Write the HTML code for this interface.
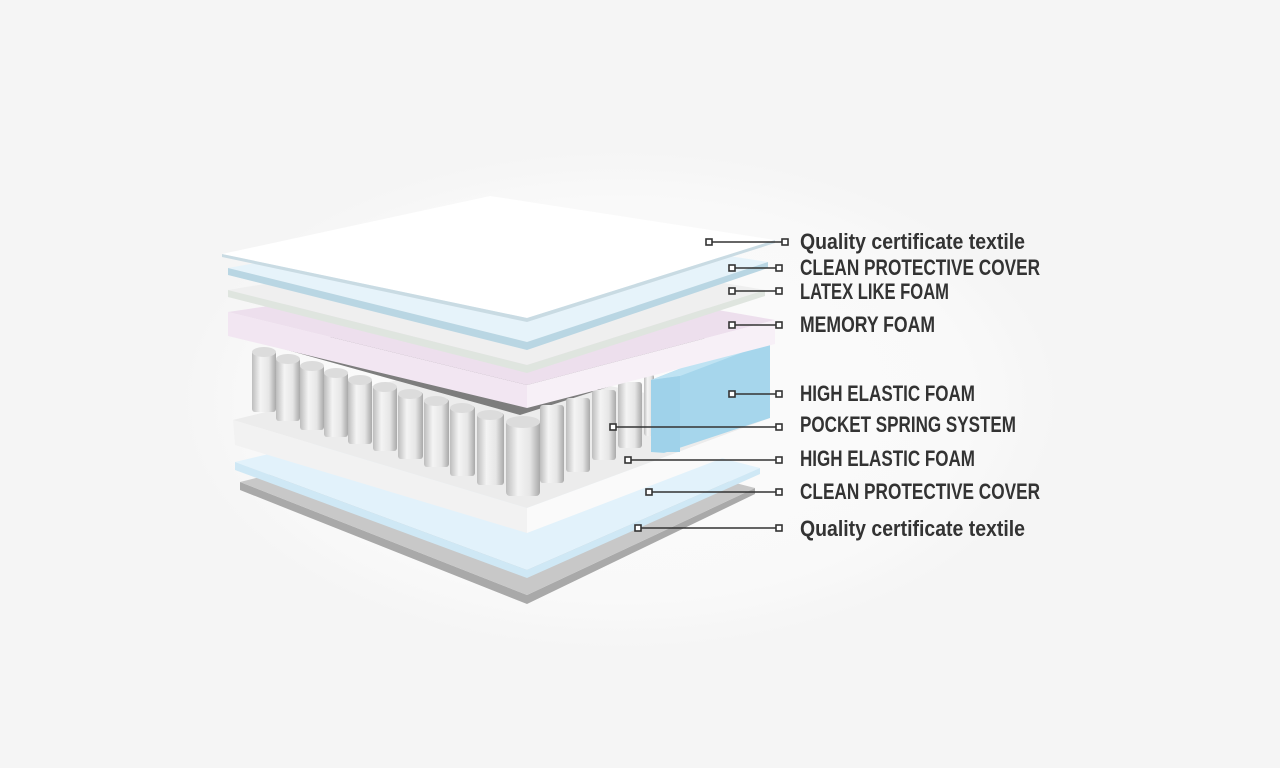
<!DOCTYPE html>
<html><head><meta charset="utf-8"><style>
html,body{margin:0;padding:0;background:#f5f5f5;}
svg{display:block}
text{font-family:"Liberation Sans Narrow","Liberation Sans",sans-serif;font-weight:bold;fill:#333;}
</style></head><body>
<svg width="1280" height="768" viewBox="0 0 1280 768" xmlns="http://www.w3.org/2000/svg">
<defs>
<radialGradient id="bg" cx="50%" cy="50%" r="50%">
<stop offset="0" stop-color="#fbfbfb"/><stop offset="0.8" stop-color="#f9f9f9"/><stop offset="1" stop-color="#f5f5f5"/>
</radialGradient>
<linearGradient id="cyl" x1="0" x2="1">
<stop offset="0" stop-color="#bdbdbd"/><stop offset="0.35" stop-color="#f4f4f4"/><stop offset="0.7" stop-color="#e6e6e6"/><stop offset="1" stop-color="#a9a9a9"/>
</linearGradient>
</defs>
<rect width="1280" height="768" fill="#f5f5f5"/>
<ellipse cx="620" cy="400" rx="440" ry="250" fill="url(#bg)"/>

<polygon points="240,482 527,595 755,488 755,494 527,604 240,490" fill="#a9a9a9"/>
<polygon points="240,482 527,595 755,488 490,420" fill="#c8c8c8"/>
<polygon points="235,462 527,570 760,468 495,400" fill="#e2f2fb"/>
<polygon points="235,462 527,570 760,468 760,474 527,578 235,470" fill="#cfe8f5"/>
<polygon points="233,420 527,508 770,418 480,360" fill="#ececec"/>
<polygon points="233,420 527,508 527,533 235,445" fill="#f2f2f2"/>
<polygon points="527,508 770,418 770,440 527,533" fill="#fafafa"/>

<polygon points="280,348 520,415 740,345 500,300" fill="#7d7d7d"/>
<g>
<rect x="540" y="405" width="24" height="78" rx="3" fill="url(#cyl)"/>
<rect x="566" y="398" width="24" height="74" rx="3" fill="url(#cyl)"/>
<rect x="592" y="390" width="24" height="70" rx="3" fill="url(#cyl)"/>
<rect x="618" y="382" width="24" height="66" rx="3" fill="url(#cyl)"/>
<rect x="644" y="374" width="10" height="62" rx="3" fill="url(#cyl)"/>
<rect x="252" y="350" width="24" height="62" rx="3" fill="url(#cyl)"/>
<rect x="276" y="357" width="24" height="64" rx="3" fill="url(#cyl)"/>
<rect x="300" y="364" width="24" height="66" rx="3" fill="url(#cyl)"/>
<rect x="324" y="371" width="24" height="66" rx="3" fill="url(#cyl)"/>
<rect x="348" y="378" width="24" height="66" rx="3" fill="url(#cyl)"/>
<rect x="373" y="385" width="24" height="66" rx="3" fill="url(#cyl)"/>
<rect x="398" y="392" width="25" height="67" rx="3" fill="url(#cyl)"/>
<rect x="424" y="399" width="25" height="68" rx="3" fill="url(#cyl)"/>
<rect x="450" y="406" width="25" height="70" rx="3" fill="url(#cyl)"/>
<rect x="477" y="413" width="27" height="72" rx="3" fill="url(#cyl)"/>
<rect x="506" y="420" width="34" height="76" rx="4" fill="url(#cyl)"/>
</g>
<g fill="#dcdcdc">
<ellipse cx="264" cy="352" rx="12" ry="5"/><ellipse cx="288" cy="359" rx="12" ry="5"/><ellipse cx="312" cy="366" rx="12" ry="5"/><ellipse cx="336" cy="373" rx="12" ry="5"/><ellipse cx="360" cy="380" rx="12" ry="5"/><ellipse cx="385" cy="387" rx="12" ry="5"/><ellipse cx="410" cy="394" rx="12" ry="5"/><ellipse cx="436" cy="401" rx="12" ry="5"/><ellipse cx="462" cy="408" rx="12" ry="5"/><ellipse cx="490" cy="415" rx="13" ry="5"/><ellipse cx="523" cy="422" rx="17" ry="6"/>
</g>
<polygon points="651,380 740,345 770,342 770,418 664,453 651,452" fill="#a6d6ec"/>
<polygon points="651,380 740,345 770,342 680,376" fill="#bfe3f3"/>
<polygon points="651,380 680,376 680,452 651,452" fill="#9fd2ea"/>

<polygon points="228,312 527,385 775,320 500,272" fill="#eddfed"/>
<polygon points="228,312 527,385 527,408 228,336" fill="#f2e6f2"/>
<polygon points="527,385 775,320 775,344 527,408" fill="#f7f0f7"/>
<polygon points="228,290 527,365 765,290 500,245" fill="#efefef"/>
<polygon points="228,290 527,365 765,290 765,296 527,373 228,297" fill="#dfe5df"/>
<polygon points="228,268 527,342 768,262 495,220" fill="#e6f3fa"/>
<polygon points="228,268 527,342 768,262 768,268 527,350 228,275" fill="#b9d6e3"/>
<polygon points="222,254 527,318 775,240 490,196" fill="#ffffff"/>
<polygon points="222,254 527,318 775,240 775,243 527,322 222,257" fill="#c9dbe3"/>

<g stroke="#333" stroke-width="1.6" fill="#fff">
<line x1="712" y1="242" x2="782" y2="242"/><rect x="706" y="239" width="6" height="6"/><rect x="782" y="239" width="6" height="6"/>
<line x1="735" y1="268" x2="776" y2="268"/><rect x="729" y="265" width="6" height="6"/><rect x="776" y="265" width="6" height="6"/>
<line x1="735" y1="291" x2="776" y2="291"/><rect x="729" y="288" width="6" height="6"/><rect x="776" y="288" width="6" height="6"/>
<line x1="735" y1="325" x2="776" y2="325"/><rect x="729" y="322" width="6" height="6"/><rect x="776" y="322" width="6" height="6"/>
<line x1="735" y1="394" x2="776" y2="394"/><rect x="729" y="391" width="6" height="6"/><rect x="776" y="391" width="6" height="6"/>
<line x1="616" y1="427" x2="776" y2="427"/><rect x="610" y="424" width="6" height="6"/><rect x="776" y="424" width="6" height="6"/>
<line x1="631" y1="460" x2="776" y2="460"/><rect x="625" y="457" width="6" height="6"/><rect x="776" y="457" width="6" height="6"/>
<line x1="652" y1="492" x2="776" y2="492"/><rect x="646" y="489" width="6" height="6"/><rect x="776" y="489" width="6" height="6"/>
<line x1="641" y1="528" x2="776" y2="528"/><rect x="635" y="525" width="6" height="6"/><rect x="776" y="525" width="6" height="6"/>
</g>

<g font-size="22">
<text x="800" y="249" textLength="225" lengthAdjust="spacingAndGlyphs">Quality certificate textile</text>
<text x="800" y="275" textLength="240" lengthAdjust="spacingAndGlyphs">CLEAN PROTECTIVE COVER</text>
<text x="800" y="299" textLength="149" lengthAdjust="spacingAndGlyphs">LATEX LIKE FOAM</text>
<text x="800" y="332" textLength="135" lengthAdjust="spacingAndGlyphs">MEMORY FOAM</text>
<text x="800" y="401" textLength="175" lengthAdjust="spacingAndGlyphs">HIGH ELASTIC FOAM</text>
<text x="800" y="432" textLength="216" lengthAdjust="spacingAndGlyphs">POCKET SPRING SYSTEM</text>
<text x="800" y="466" textLength="175" lengthAdjust="spacingAndGlyphs">HIGH ELASTIC FOAM</text>
<text x="800" y="499" textLength="240" lengthAdjust="spacingAndGlyphs">CLEAN PROTECTIVE COVER</text>
<text x="800" y="536" textLength="225" lengthAdjust="spacingAndGlyphs">Quality certificate textile</text>
</g>
</svg>
</body></html>
